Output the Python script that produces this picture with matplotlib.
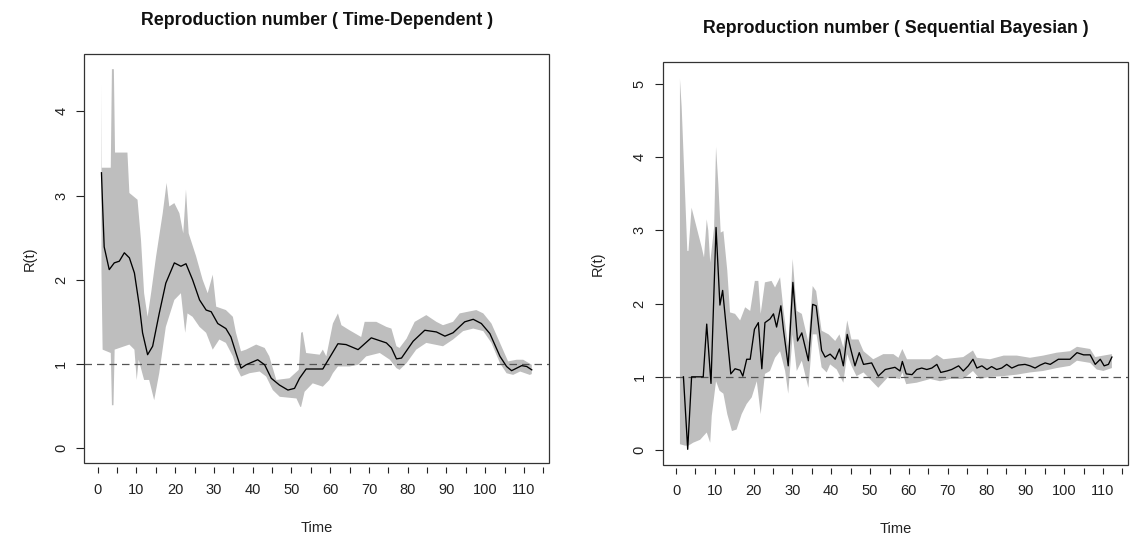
import numpy as np
import matplotlib
matplotlib.use("Agg")
import matplotlib.pyplot as plt
from matplotlib.patches import Rectangle

# Time-dependent estimate (left panel)
td_t = [1.0, 1.3, 1.7, 3.0, 4.3, 5.6, 6.9, 8.2, 9.5, 10.8, 11.6, 12.9, 14.2,
        15.9, 17.6, 19.8, 21.5, 22.8, 24.5, 26.3, 28.0, 29.3, 31.0, 33.1,
        34.4, 35.7, 37.0, 38.3, 41.3, 43.1, 44.8, 46.9, 49.1, 50.8, 52.1,
        53.8, 58.1, 59.0, 62.0, 64.1, 67.2, 70.6, 74.5, 75.8, 77.1, 78.4,
        81.4, 84.4, 87.4, 89.6, 91.7, 94.7, 96.9, 99.0, 101.2, 103.8, 105.5,
        106.8, 109.4, 110.7, 112.0]
td_r = [3.27, 2.87, 2.39, 2.12, 2.20, 2.22, 2.32, 2.26, 2.08, 1.68, 1.37,
        1.11, 1.21, 1.60, 1.96, 2.20, 2.16, 2.19, 2.00, 1.76, 1.64, 1.62,
        1.48, 1.42, 1.32, 1.13, 0.95, 0.99, 1.05, 0.99, 0.83, 0.75, 0.69,
        0.71, 0.83, 0.94, 0.94, 1.01, 1.24, 1.23, 1.17, 1.31, 1.25, 1.19,
        1.06, 1.07, 1.27, 1.40, 1.38, 1.33, 1.37, 1.50, 1.53, 1.48, 1.36,
        1.09, 0.97, 0.92, 0.98, 0.97, 0.93]
td_hi_t = [1.0, 1.1, 3.4, 3.7, 4.2, 4.5, 7.7, 8.2, 10.3, 11.2, 12.0, 12.9,
           13.8, 15.1, 16.8, 17.8, 18.5, 19.8, 21.1, 22.1, 22.8, 23.5, 25.4,
           27.1, 28.4, 29.7, 30.6, 33.1, 34.9, 35.7, 37.0, 38.3, 40.9, 43.1,
           44.3, 46.1, 49.5, 51.9, 52.5, 52.9, 53.8, 57.3, 58.1, 59.0, 60.7,
           62.0, 62.9, 65.0, 68.0, 68.9, 71.9, 74.5, 75.8, 77.1, 77.9, 79.7,
           81.8, 84.8, 87.4, 89.1, 91.7, 93.4, 97.7, 99.5, 101.6, 103.8,
           105.9, 108.1, 109.8, 112.0]
td_hi = [4.32, 3.33, 3.33, 4.50, 4.50, 3.51, 3.51, 3.03, 2.95, 2.47, 1.84,
         1.56, 1.84, 2.28, 2.79, 3.15, 2.87, 2.91, 2.79, 2.55, 3.07, 2.55,
         2.28, 2.00, 1.84, 2.06, 1.68, 1.64, 1.56, 1.37, 1.15, 1.17, 1.23,
         1.19, 1.09, 0.81, 0.83, 0.93, 1.37, 1.38, 1.13, 1.11, 1.17, 1.09,
         1.48, 1.60, 1.46, 1.40, 1.32, 1.50, 1.50, 1.44, 1.42, 1.21, 1.19,
         1.30, 1.50, 1.58, 1.50, 1.46, 1.50, 1.60, 1.64, 1.60, 1.48, 1.25,
         1.03, 1.05, 1.05, 0.99]
td_lo_t = [1.0, 1.3, 3.4, 3.7, 4.1, 4.4, 8.2, 9.5, 10.1, 10.6, 12.0, 13.3,
           14.6, 15.9, 17.6, 19.8, 21.5, 22.6, 23.2, 24.5, 26.3, 28.0, 29.7,
           31.4, 33.1, 34.9, 35.7, 37.0, 39.2, 41.8, 43.5, 45.2, 47.0, 51.3,
           52.3, 52.5, 53.4, 55.5, 58.1, 59.8, 60.7, 62.0, 65.0, 67.2, 69.3,
           72.8, 75.4, 77.1, 77.9, 79.7, 82.2, 84.8, 89.1, 91.7, 94.3, 96.9,
           99.5, 101.6, 103.8, 105.5, 107.2, 109.0, 111.5, 112.0]
td_lo = [2.10, 1.17, 1.13, 0.51, 0.51, 1.17, 1.23, 1.17, 0.81, 1.05, 0.81,
         0.81, 0.57, 0.89, 1.44, 1.76, 1.84, 1.37, 1.60, 1.56, 1.44, 1.37,
         1.17, 1.29, 1.25, 1.09, 0.97, 0.85, 0.89, 0.91, 0.85, 0.69, 0.61,
         0.59, 0.49, 0.49, 0.67, 0.77, 0.73, 0.81, 0.89, 0.97, 0.97, 0.99,
         1.09, 1.13, 1.05, 0.95, 0.93, 1.01, 1.17, 1.25, 1.21, 1.29, 1.39,
         1.42, 1.39, 1.25, 1.01, 0.89, 0.87, 0.91, 0.87, 0.88]

# Sequential Bayesian estimate (right panel)
sb_t = [1.9, 3.0, 4.0, 7.0, 7.9, 9.0, 10.3, 11.3, 12.0, 14.1, 15.2, 16.5,
        17.2, 18.2, 19.1, 20.2, 21.2, 22.1, 22.9, 24.2, 25.1, 25.9, 27.0,
        27.7, 28.9, 30.1, 31.3, 32.4, 34.1, 35.2, 36.1, 37.5, 38.4, 39.7,
        41.0, 42.1, 43.1, 44.1, 45.0, 46.1, 47.2, 48.3, 50.4, 52.1, 53.9,
        56.4, 57.7, 58.3, 59.3, 60.8, 62.0, 63.3, 64.6, 65.9, 67.2, 68.2,
        69.8, 71.0, 72.8, 74.0, 75.3, 76.5, 77.5, 78.8, 80.1, 81.3, 82.6,
        83.9, 85.2, 86.5, 88.2, 89.9, 91.2, 92.5, 93.8, 95.1, 96.4, 98.5,
        100.7, 101.5, 103.3, 105.0, 106.7, 108.0, 109.3, 110.3, 111.4, 112.3]
sb_r = [1.00, 0.01, 1.00, 1.00, 1.72, 0.91, 3.04, 1.98, 2.18, 1.04, 1.11,
        1.09, 1.01, 1.24, 1.24, 1.65, 1.74, 1.11, 1.74, 1.79, 1.86, 1.68,
        1.97, 1.63, 1.15, 2.29, 1.49, 1.60, 1.22, 1.99, 1.97, 1.36, 1.27,
        1.31, 1.24, 1.38, 1.15, 1.58, 1.38, 1.15, 1.33, 1.17, 1.19, 1.01,
        1.10, 1.13, 1.08, 1.21, 1.04, 1.03, 1.10, 1.12, 1.10, 1.12, 1.17,
        1.06, 1.08, 1.10, 1.15, 1.08, 1.15, 1.24, 1.12, 1.15, 1.10, 1.14,
        1.10, 1.12, 1.17, 1.12, 1.16, 1.17, 1.15, 1.12, 1.16, 1.19, 1.17,
        1.24, 1.24, 1.24, 1.33, 1.30, 1.30, 1.17, 1.24, 1.15, 1.17, 1.27]
sb_hi_t = [1.0, 1.45, 2.9, 3.2, 4.0, 5.3, 6.6, 7.2, 7.9, 8.3, 8.8, 9.8, 10.3,
           10.9, 11.5, 12.2, 13.2, 13.9, 15.2, 16.5, 17.8, 19.1, 20.3, 21.2,
           21.8, 22.9, 24.6, 25.5, 26.8, 27.6, 28.9, 30.05, 31.1, 32.4, 34.1,
           35.2, 36.1, 37.5, 39.3, 41.0, 42.1, 43.1, 44.1, 45.2, 47.0, 48.3,
           50.8, 53.4, 56.0, 57.3, 58.3, 59.5, 61.6, 65.5, 67.2, 68.9, 72.3,
           74.0, 76.5, 77.5, 80.9, 84.4, 87.8, 91.2, 94.6, 98.1, 101.5,
           103.3, 106.7, 108.0, 110.1, 112.3]
sb_hi = [5.07, 4.68, 2.72, 2.72, 3.31, 3.04, 2.77, 2.63, 3.15, 3.00, 2.56,
         3.04, 4.14, 3.63, 2.97, 2.99, 2.45, 1.88, 1.86, 1.77, 1.95, 1.90,
         2.31, 2.31, 1.86, 2.29, 2.31, 2.22, 2.36, 1.95, 1.40, 2.61, 1.90,
         1.86, 1.47, 2.24, 2.17, 1.63, 1.58, 1.49, 1.58, 1.40, 1.77, 1.51,
         1.51, 1.35, 1.24, 1.31, 1.31, 1.26, 1.38, 1.24, 1.24, 1.24, 1.30,
         1.24, 1.26, 1.27, 1.36, 1.26, 1.24, 1.29, 1.29, 1.26, 1.29, 1.33,
         1.35, 1.41, 1.38, 1.27, 1.29, 1.31]
sb_lo_t = [1.0, 2.3, 3.2, 4.4, 6.2, 7.9, 8.8, 9.2, 10.3, 11.2, 12.2, 13.2,
           14.4, 15.6, 16.9, 18.2, 19.5, 20.8, 21.8, 22.9, 24.2, 25.5, 26.8,
           28.1, 28.9, 30.05, 31.1, 32.4, 34.1, 35.2, 36.2, 37.5, 38.8, 39.7,
           41.4, 43.1, 44.1, 45.2, 46.5, 48.3, 52.1, 54.7, 57.7, 58.3, 59.3,
           62.0, 65.5, 68.0, 70.6, 74.0, 76.5, 78.3, 80.9, 84.4, 87.8, 91.2,
           94.6, 98.1, 101.5, 103.3, 106.7, 108.4, 110.1, 112.3]
sb_lo = [0.08, 0.06, 0.06, 0.10, 0.14, 0.24, 0.10, 0.47, 0.94, 0.81, 0.77,
         0.49, 0.26, 0.28, 0.49, 0.63, 0.72, 0.94, 0.49, 1.04, 1.08, 1.26,
         1.35, 1.08, 0.77, 1.58, 1.08, 1.22, 0.85, 1.58, 1.58, 1.13, 1.06,
         1.17, 1.10, 0.92, 1.31, 1.15, 1.01, 1.06, 0.85, 1.00, 0.97, 1.06,
         0.90, 0.92, 0.97, 0.94, 0.97, 0.97, 1.08, 0.97, 1.00, 1.01, 1.03,
         1.06, 1.08, 1.12, 1.15, 1.22, 1.19, 1.10, 1.08, 1.12]

x_ticks = list(range(0, 116, 5))
x_labels = [str(v) if v % 10 == 0 else "" for v in x_ticks]
td_y_ticks = [0, 1, 2, 3, 4]
sb_y_ticks = [0, 1, 2, 3, 4, 5]

FONT = ["Liberation Sans", "DejaVu Sans"]
INK = "#222222"


def draw_panel(ax, t, r, hi_t, hi, lo_t, lo, title, yticks, ylim, ylab_x):
    """Draw one R(t) panel: grey credible band, black estimate, dashed 1."""
    band_x = np.concatenate([hi_t, lo_t[::-1]])
    band_y = np.concatenate([hi, lo[::-1]])
    ax.fill(band_x, band_y, color="#bebebe", lw=0, zorder=1)
    ax.plot(t, r, color="black", lw=0.95, zorder=3)
    ax.axhline(1, color="#555555", lw=0.9, ls=(0, (6, 4)), zorder=2)

    ax.set_xlim(-3.44, 116.44)
    ax.set_ylim(*ylim)
    ax.set_xticks(x_ticks)
    ax.set_xticklabels(x_labels)
    ax.set_yticks(yticks)
    ax.set_yticklabels([str(v) for v in yticks], rotation=90, va="center")
    ax.tick_params(axis="x", length=4.5, width=0.8, pad=7, colors=INK,
                   labelsize=10.5)
    ax.tick_params(axis="y", length=5.5, width=0.8, pad=6, colors=INK,
                   labelsize=10.5)

    # R style frame: box drawn apart, x ticks hang a little below it
    for s in ax.spines.values():
        s.set_visible(False)
    ax.spines["bottom"].set_position(("outward", 2.5))
    ax.add_patch(Rectangle((0, 0), 1, 1, transform=ax.transAxes, fill=False,
                           ec="#333333", lw=0.9, clip_on=False, zorder=5))

    ax.set_title(title, fontsize=12.8, fontweight="bold", pad=21,
                 color="#111111")
    ax.set_xlabel("Time", fontsize=10.5, color=INK)
    ax.set_ylabel("R(t)", fontsize=10.5, color=INK)
    ax.xaxis.set_label_coords(0.5, -0.158)
    ax.xaxis.label.set_va("center")
    ax.yaxis.set_label_coords(ylab_x, 0.5)
    ax.yaxis.label.set_va("center")


def main():
    """Build the two panels and save the figure."""
    plt.rcParams["font.family"] = FONT
    fig = plt.figure(figsize=(11.34, 5.37), dpi=100)
    ax1 = fig.add_axes([0.0743, 0.1372, 0.4098, 0.7622])
    ax2 = fig.add_axes([0.5844, 0.1341, 0.4103, 0.7505])

    draw_panel(ax1, td_t, td_r, np.array(td_hi_t), np.array(td_hi),
               np.array(td_lo_t), np.array(td_lo),
               "Reproduction number ( Time-Dependent )",
               td_y_ticks, (-0.18, 4.68), -0.117)
    draw_panel(ax2, sb_t, sb_r, np.array(sb_hi_t), np.array(sb_hi),
               np.array(sb_lo_t), np.array(sb_lo),
               "Reproduction number ( Sequential Bayesian )",
               sb_y_ticks, (-0.204, 5.30), -0.139)

    fig.savefig("out.png", dpi=100, facecolor="white")


if __name__ == "__main__":
    main()
